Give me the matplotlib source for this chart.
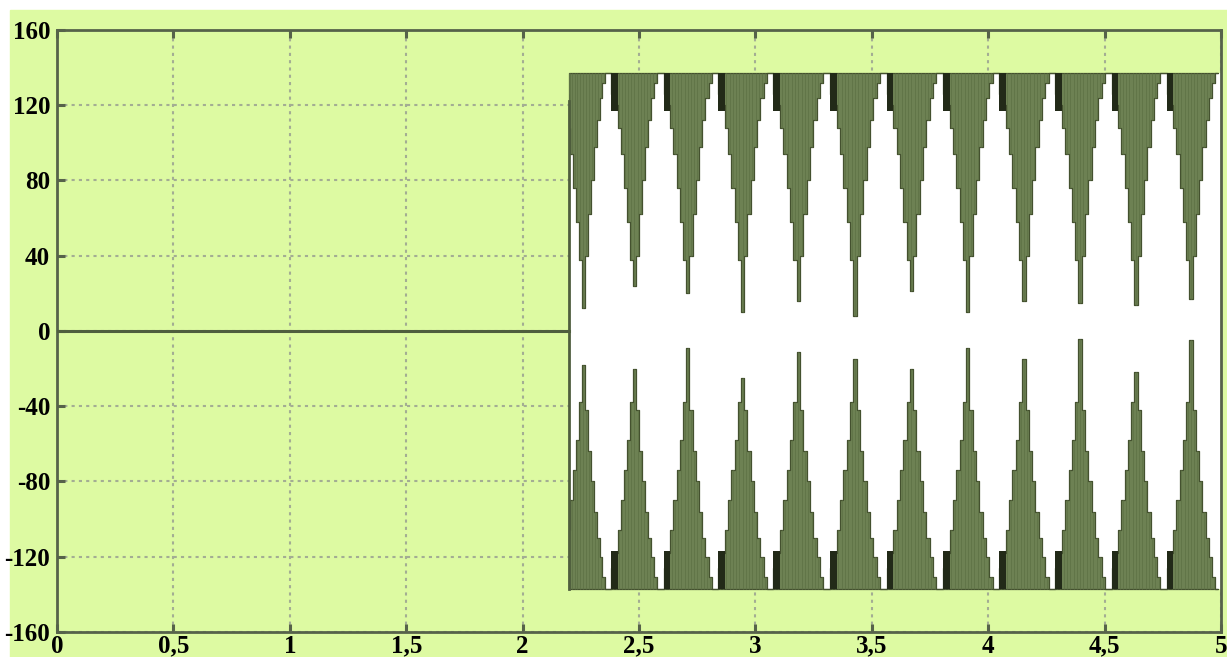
import numpy as np
import matplotlib.pyplot as plt
from matplotlib.patches import Rectangle

# signal data
t_start = 2.2
t_end = 5.0
rail = 137
jump_top = 122
zero_t = [0.0, t_start]
zero_v = [0, 0]

tip_times = [2.261, 2.476, 2.709, 2.945, 3.181, 3.431, 3.667, 3.917, 4.149, 4.398, 4.635, 4.871]
upper_tips = [12, 24, 20, 10, 16, 8, 21, 10, 16, 15, 14, 17]
lower_tips = [-18, -20, -9, -25, -11, -15, -20, -9, -15, -4, -22, -5]

# staircase levels of one cycle (None = tip level of that cycle)
upper_profile = [137, 126, 120, 108, 94, 76, 58, 38, None, 40, 62, 80, 98, 112, 124, 132, 137]
lower_profile = [-137, -126, -118, -106, -90, -74, -58, -38, None, -42, -64, -80, -96, -110, -120, -131, -137]
dark_depth = 20

xticks = [0, 0.5, 1, 1.5, 2, 2.5, 3, 3.5, 4, 4.5, 5]
xlabels = ['0', '0,5', '1', '1,5', '2', '2,5', '3', '3,5', '4', '4,5', '5']
yticks = [160, 120, 80, 40, 0, -40, -80, -120, -160]

bg = '#ddfaa2'
green = '#6d8153'
stripe = '#5f7346'
edge = '#44512f'
dark = '#222a18'
frame = '#56624a'


def build(profile, tips):
    xs, ys, dark_x, dark_w = [], [], [], []
    n = len(tip_times)
    for k, tt in enumerate(tip_times):
        left = (tip_times[k - 1] + tt) / 2 if k > 0 else tt - (tip_times[1] - tt) / 2
        right = (tt + tip_times[k + 1]) / 2 if k < n - 1 else tt + (tt - tip_times[k - 1]) / 2
        e = np.linspace(left, right, len(profile) + 1)
        lv = [tips[k] if v is None else v for v in profile]
        xs.extend(e[:-1])
        ys.extend(lv)
        dark_x.append(e[1])
        dark_w.append(2 * (e[2] - e[1]))
        last = right
    xs.append(last)
    ys.append(ys[-1])
    xs = np.clip(np.array(xs), t_start, t_end)
    return xs, np.array(ys), dark_x, dark_w


plt.rcParams['font.family'] = 'Liberation Serif'
fig = plt.figure(figsize=(12.27, 6.57), dpi=100, facecolor='white')
fig.patches.append(Rectangle((10 / 1227, 0), 1, 647 / 657, transform=fig.transFigure,
                             color=bg, zorder=-1))
ax = fig.add_axes([57 / 1227, 1 - 632 / 657, 1164 / 1227, 602 / 657])
ax.set_facecolor(bg)

# white area behind the pulses
ax.fill_between([t_start, t_end], -rail, rail, color='white', lw=0, zorder=1)

for profile, tips, base, sign in [(upper_profile, upper_tips, rail, -1),
                                  (lower_profile, lower_tips, -rail, 1)]:
    xs, ys, dx, dw = build(profile, tips)
    ax.fill_between(xs, base, ys, step='post', facecolor=green, edgecolor=edge,
                    lw=0.9, zorder=2)
    mids = (xs[:-1] + xs[1:]) / 2
    ax.vlines(mids, base, ys[:-1], color=stripe, lw=0.6, zorder=2.5)
    for x0, w in zip(dx, dw):
        if x0 >= t_start:
            ax.bar(x0, sign * dark_depth, width=w, bottom=base, align='edge',
                   color=dark, lw=0, zorder=3)

ax.plot(zero_t, zero_v, color='#4f5e3e', lw=2.2, zorder=3)
ax.plot([t_start, t_start], [-rail, jump_top], color='#4f5e3e', lw=2, zorder=3)

ax.set_xlim(0, 5)
ax.set_ylim(-160, 160)
ax.set_xticks(xticks)
ax.set_xticklabels(xlabels)
ax.set_yticks(yticks)
ax.set_yticklabels([str(v) for v in yticks])
ax.set_axisbelow(True)
ax.grid(True, color='#a3ad93', lw=1.5, linestyle=(0, (1.5, 2)))
ax.tick_params(axis='both', direction='in', length=6, width=2.2, color=frame,
               labelsize=18, pad=5)
ax.tick_params(axis='x', top=True, pad=2)
for lab in ax.get_xticklabels() + ax.get_yticklabels():
    lab.set_fontweight('bold')
for sp in ax.spines.values():
    sp.set_color(frame)
    sp.set_linewidth(2)

fig.savefig('out.png', dpi=100, facecolor='white')
